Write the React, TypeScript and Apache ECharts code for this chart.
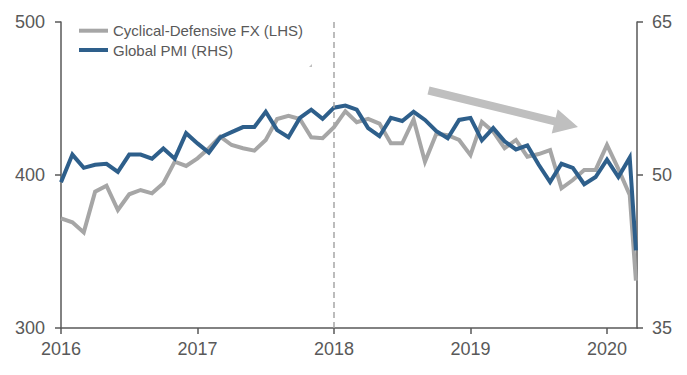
import React, { useEffect, useRef } from "react";
import * as echarts from "echarts";

// Monthly observations from Jan 2016; the final reading is a partial-month print.
const startYear = 2016;
const lastPointX = 2020.212;
const fxValues = [
  371.7, 369.1, 362.5, 389.1, 393.0, 377.1, 387.4, 390.2, 388.0, 394.6, 408.7, 405.9,
  410.9, 417.5, 425.0, 419.6, 417.5, 415.9, 422.9, 436.6, 438.6, 436.6, 424.6, 424.0,
  431.3, 441.7, 434.5, 436.7, 433.6, 420.7, 420.7, 436.3, 408.7, 427.0, 426.0, 422.9,
  413.0, 434.7, 428.3, 417.5, 422.9, 412.0, 413.7, 416.3, 391.3, 396.7, 403.3, 403.3,
  419.6, 404.0, 387.0, 331.0,
];
const pmiValues = [
  49.3, 52.0, 50.7, 51.0, 51.1, 50.3, 52.0, 52.0, 51.6, 52.6, 51.6, 54.1,
  53.1, 52.2, 53.7, 54.2, 54.7, 54.7, 56.2, 54.4, 53.7, 55.6, 56.4, 55.5,
  56.6, 56.8, 56.4, 54.6, 53.8, 55.6, 55.3, 56.2, 55.4, 54.3, 53.6, 55.4,
  55.6, 53.4, 54.6, 53.3, 52.5, 52.9, 51.0, 49.3, 51.1, 50.7, 49.1, 49.8,
  51.5, 49.8, 51.7, 42.6,
];
const yearTicks = [2016, 2017, 2018, 2019, 2020];
const markerYear = 2018;
const seriesNames = ["Cyclical-Defensive FX (LHS)", "Global PMI (RHS)"];

function xAt(i: number, n: number): number {
  return i === n - 1 ? lastPointX : startYear + i / 12;
}

const FONT = "Liberation Sans, Arial, sans-serif";
const AXIS_COLOR = "#595959";

export default function App() {
  const ref = useRef<HTMLDivElement>(null);
  useEffect(() => {
    if (!ref.current) return;
    const chart = echarts.init(ref.current, undefined, { renderer: "svg" });
    const fxData = fxValues.map((v, i) => [xAt(i, fxValues.length), v]);
    const pmiData = pmiValues.map((v, i) => [xAt(i, pmiValues.length), v]);
    const arrowPts = [
      [429.5, 86.6],
      [555.7, 117.4],
      [557.7, 109.2],
      [578, 127],
      [551.7, 133.4],
      [553.7, 125.2],
      [427.5, 94.4],
    ];
    chart.setOption({
      animation: false,
      textStyle: { fontFamily: FONT },
      grid: { left: 61, right: 50, top: 22, bottom: 47, containLabel: false },
      legend: {
        left: 79,
        top: 22.7,
        padding: 0,
        orient: "vertical",
        itemWidth: 29,
        itemHeight: 4,
        itemGap: 3.3,
        icon: "rect",
        textStyle: { fontSize: 15, lineHeight: 16, color: AXIS_COLOR, fontFamily: FONT },
        data: seriesNames,
      },
      xAxis: {
        type: "value",
        min: startYear,
        max: 2020.22,
        interval: 1,
        splitLine: { show: false },
        axisLine: { lineStyle: { color: AXIS_COLOR, width: 1.5 } },
        axisTick: { length: 6, lineStyle: { color: AXIS_COLOR, width: 1.5 }, customValues: yearTicks },
        axisLabel: {
          customValues: yearTicks,
          fontSize: 18,
          color: AXIS_COLOR,
          margin: 12,
          formatter: (v: number) => String(Math.round(v)),
        },
      },
      yAxis: [
        {
          type: "value",
          min: 300,
          max: 500,
          interval: 100,
          position: "left",
          splitLine: { show: false },
          axisLine: { show: true, lineStyle: { color: AXIS_COLOR, width: 1.5 } },
          axisTick: { show: true, length: 6, lineStyle: { color: AXIS_COLOR, width: 1.5 } },
          axisLabel: { fontSize: 18, color: AXIS_COLOR, margin: 16 },
        },
        {
          type: "value",
          min: 35,
          max: 65,
          interval: 15,
          position: "right",
          splitLine: { show: false },
          axisLine: { show: true, lineStyle: { color: AXIS_COLOR, width: 1.5 } },
          axisTick: { show: true, length: 6, lineStyle: { color: AXIS_COLOR, width: 1.5 } },
          axisLabel: { fontSize: 18, color: AXIS_COLOR, margin: 15 },
        },
      ],
      series: [
        {
          name: seriesNames[0],
          type: "line",
          yAxisIndex: 0,
          data: fxData,
          symbol: "none",
          lineStyle: { color: "#a6a6a6", width: 4, join: "miter" },
          itemStyle: { color: "#a6a6a6" },
          z: 2,
          markLine: {
            silent: true,
            symbol: ["none", "none"],
            label: { show: false },
            lineStyle: { color: "#a6a6a6", type: [6, 4], width: 1.5 },
            data: [{ xAxis: markerYear }],
          },
        },
        {
          name: seriesNames[1],
          type: "line",
          yAxisIndex: 1,
          data: pmiData,
          symbol: "none",
          lineStyle: { color: "#2e5f8b", width: 4, join: "miter" },
          itemStyle: { color: "#2e5f8b" },
          z: 3,
        },
      ],
      graphic: [
        {
          type: "polygon",
          shape: { points: arrowPts },
          style: { fill: "#bfbfbf" },
          z: 1,
        },
        {
          type: "polygon",
          shape: { points: [[309, 67], [312, 64], [312, 67]] },
          style: { fill: "#bfbfbf" },
        },
      ],
    });
    return () => chart.dispose();
  }, []);
  return <div ref={ref} style={{ width: 687, height: 375, position: "absolute", left: 0, top: 0 }} />;
}
